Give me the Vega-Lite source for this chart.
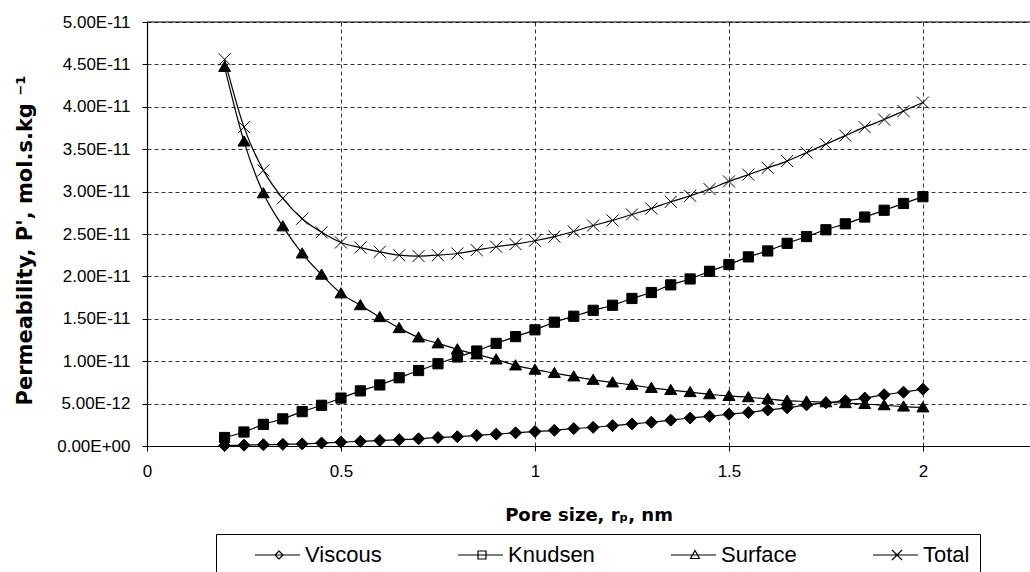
{
  "$schema": "https://vega.github.io/schema/vega-lite/v6.json",
  "width": 883,
  "height": 424,
  "autosize": {"type": "none"},
  "padding": {"left": 147, "top": 22, "right": 0, "bottom": 126},
  "background": "white",
  "config": {"view": {"stroke": null}, "font": "Liberation Sans"},
  "data": {"values": [
    {"r":0.2,"series":"Viscous","P":0.05e-12},{"r":0.25,"series":"Viscous","P":0.1e-12},{"r":0.3,"series":"Viscous","P":0.15e-12},{"r":0.35,"series":"Viscous","P":0.2e-12},{"r":0.4,"series":"Viscous","P":0.25e-12},{"r":0.45,"series":"Viscous","P":0.35e-12},{"r":0.5,"series":"Viscous","P":0.45e-12},{"r":0.55,"series":"Viscous","P":0.55e-12},{"r":0.6,"series":"Viscous","P":0.65e-12},{"r":0.65,"series":"Viscous","P":0.75e-12},{"r":0.7,"series":"Viscous","P":0.85e-12},{"r":0.75,"series":"Viscous","P":1.0e-12},{"r":0.8,"series":"Viscous","P":1.1e-12},{"r":0.85,"series":"Viscous","P":1.25e-12},{"r":0.9,"series":"Viscous","P":1.4e-12},{"r":0.95,"series":"Viscous","P":1.55e-12},{"r":1.0,"series":"Viscous","P":1.7e-12},{"r":1.05,"series":"Viscous","P":1.85e-12},{"r":1.1,"series":"Viscous","P":2.05e-12},{"r":1.15,"series":"Viscous","P":2.2e-12},{"r":1.2,"series":"Viscous","P":2.4e-12},{"r":1.25,"series":"Viscous","P":2.6e-12},{"r":1.3,"series":"Viscous","P":2.8e-12},{"r":1.35,"series":"Viscous","P":3.05e-12},{"r":1.4,"series":"Viscous","P":3.3e-12},{"r":1.45,"series":"Viscous","P":3.5e-12},{"r":1.5,"series":"Viscous","P":3.75e-12},{"r":1.55,"series":"Viscous","P":3.95e-12},{"r":1.6,"series":"Viscous","P":4.25e-12},{"r":1.65,"series":"Viscous","P":4.5e-12},{"r":1.7,"series":"Viscous","P":4.85e-12},{"r":1.75,"series":"Viscous","P":5.1e-12},{"r":1.8,"series":"Viscous","P":5.35e-12},{"r":1.85,"series":"Viscous","P":5.65e-12},{"r":1.9,"series":"Viscous","P":6.05e-12},{"r":1.95,"series":"Viscous","P":6.35e-12},{"r":2.0,"series":"Viscous","P":6.7e-12},
    {"r":0.2,"series":"Knudsen","P":1.0e-12},{"r":0.25,"series":"Knudsen","P":1.65e-12},{"r":0.3,"series":"Knudsen","P":2.55e-12},{"r":0.35,"series":"Knudsen","P":3.2e-12},{"r":0.4,"series":"Knudsen","P":4.05e-12},{"r":0.45,"series":"Knudsen","P":4.8e-12},{"r":0.5,"series":"Knudsen","P":5.65e-12},{"r":0.55,"series":"Knudsen","P":6.5e-12},{"r":0.6,"series":"Knudsen","P":7.2e-12},{"r":0.65,"series":"Knudsen","P":8.05e-12},{"r":0.7,"series":"Knudsen","P":8.9e-12},{"r":0.75,"series":"Knudsen","P":9.7e-12},{"r":0.8,"series":"Knudsen","P":10.5e-12},{"r":0.85,"series":"Knudsen","P":11.2e-12},{"r":0.9,"series":"Knudsen","P":12.1e-12},{"r":0.95,"series":"Knudsen","P":12.9e-12},{"r":1.0,"series":"Knudsen","P":13.7e-12},{"r":1.05,"series":"Knudsen","P":14.6e-12},{"r":1.1,"series":"Knudsen","P":15.3e-12},{"r":1.15,"series":"Knudsen","P":16.0e-12},{"r":1.2,"series":"Knudsen","P":16.6e-12},{"r":1.25,"series":"Knudsen","P":17.4e-12},{"r":1.3,"series":"Knudsen","P":18.1e-12},{"r":1.35,"series":"Knudsen","P":19.0e-12},{"r":1.4,"series":"Knudsen","P":19.7e-12},{"r":1.45,"series":"Knudsen","P":20.6e-12},{"r":1.5,"series":"Knudsen","P":21.4e-12},{"r":1.55,"series":"Knudsen","P":22.3e-12},{"r":1.6,"series":"Knudsen","P":23.0e-12},{"r":1.65,"series":"Knudsen","P":23.9e-12},{"r":1.7,"series":"Knudsen","P":24.7e-12},{"r":1.75,"series":"Knudsen","P":25.5e-12},{"r":1.8,"series":"Knudsen","P":26.2e-12},{"r":1.85,"series":"Knudsen","P":27.0e-12},{"r":1.9,"series":"Knudsen","P":27.8e-12},{"r":1.95,"series":"Knudsen","P":28.6e-12},{"r":2.0,"series":"Knudsen","P":29.4e-12},
    {"r":0.2,"series":"Surface","P":44.7e-12},{"r":0.25,"series":"Surface","P":35.9e-12},{"r":0.3,"series":"Surface","P":29.8e-12},{"r":0.35,"series":"Surface","P":25.9e-12},{"r":0.4,"series":"Surface","P":22.7e-12},{"r":0.45,"series":"Surface","P":20.2e-12},{"r":0.5,"series":"Surface","P":18.0e-12},{"r":0.55,"series":"Surface","P":16.6e-12},{"r":0.6,"series":"Surface","P":15.2e-12},{"r":0.65,"series":"Surface","P":13.9e-12},{"r":0.7,"series":"Surface","P":12.8e-12},{"r":0.75,"series":"Surface","P":12.1e-12},{"r":0.8,"series":"Surface","P":11.4e-12},{"r":0.85,"series":"Surface","P":10.8e-12},{"r":0.9,"series":"Surface","P":10.2e-12},{"r":0.95,"series":"Surface","P":9.5e-12},{"r":1.0,"series":"Surface","P":9.0e-12},{"r":1.05,"series":"Surface","P":8.6e-12},{"r":1.1,"series":"Surface","P":8.2e-12},{"r":1.15,"series":"Surface","P":7.8e-12},{"r":1.2,"series":"Surface","P":7.5e-12},{"r":1.25,"series":"Surface","P":7.2e-12},{"r":1.3,"series":"Surface","P":6.85e-12},{"r":1.35,"series":"Surface","P":6.6e-12},{"r":1.4,"series":"Surface","P":6.35e-12},{"r":1.45,"series":"Surface","P":6.1e-12},{"r":1.5,"series":"Surface","P":5.9e-12},{"r":1.55,"series":"Surface","P":5.75e-12},{"r":1.6,"series":"Surface","P":5.55e-12},{"r":1.65,"series":"Surface","P":5.35e-12},{"r":1.7,"series":"Surface","P":5.25e-12},{"r":1.75,"series":"Surface","P":5.15e-12},{"r":1.8,"series":"Surface","P":5.05e-12},{"r":1.85,"series":"Surface","P":4.95e-12},{"r":1.9,"series":"Surface","P":4.8e-12},{"r":1.95,"series":"Surface","P":4.65e-12},{"r":2.0,"series":"Surface","P":4.55e-12},
    {"r":0.2,"series":"Total","P":45.6e-12},{"r":0.25,"series":"Total","P":37.6e-12},{"r":0.3,"series":"Total","P":32.5e-12},{"r":0.35,"series":"Total","P":29.2e-12},{"r":0.4,"series":"Total","P":26.8e-12},{"r":0.45,"series":"Total","P":25.2e-12},{"r":0.5,"series":"Total","P":24.0e-12},{"r":0.55,"series":"Total","P":23.4e-12},{"r":0.6,"series":"Total","P":22.9e-12},{"r":0.65,"series":"Total","P":22.5e-12},{"r":0.7,"series":"Total","P":22.4e-12},{"r":0.75,"series":"Total","P":22.5e-12},{"r":0.8,"series":"Total","P":22.7e-12},{"r":0.85,"series":"Total","P":23.1e-12},{"r":0.9,"series":"Total","P":23.5e-12},{"r":0.95,"series":"Total","P":23.8e-12},{"r":1.0,"series":"Total","P":24.2e-12},{"r":1.05,"series":"Total","P":24.7e-12},{"r":1.1,"series":"Total","P":25.3e-12},{"r":1.15,"series":"Total","P":26.0e-12},{"r":1.2,"series":"Total","P":26.6e-12},{"r":1.25,"series":"Total","P":27.3e-12},{"r":1.3,"series":"Total","P":28.0e-12},{"r":1.35,"series":"Total","P":28.8e-12},{"r":1.4,"series":"Total","P":29.5e-12},{"r":1.45,"series":"Total","P":30.3e-12},{"r":1.5,"series":"Total","P":31.2e-12},{"r":1.55,"series":"Total","P":32.0e-12},{"r":1.6,"series":"Total","P":32.8e-12},{"r":1.65,"series":"Total","P":33.6e-12},{"r":1.7,"series":"Total","P":34.6e-12},{"r":1.75,"series":"Total","P":35.6e-12},{"r":1.8,"series":"Total","P":36.6e-12},{"r":1.85,"series":"Total","P":37.6e-12},{"r":1.9,"series":"Total","P":38.5e-12},{"r":1.95,"series":"Total","P":39.5e-12},{"r":2.0,"series":"Total","P":40.5e-12}
  ]},
  "resolve": {"scale": {"shape": "independent"}},
  "layer": [
    {
      "mark": {"type": "line", "color": "black", "strokeWidth": 1.2, "interpolate": "monotone"},
      "encoding": {
        "x": {"field": "r", "type": "quantitative",
          "scale": {"domain": [0, 2.276], "nice": false, "zero": false},
          "axis": {"title": "Pore size, rₚ, nm", "values": [0, 0.5, 1, 1.5, 2], "format": "~g",
            "grid": true, "gridDash": [4, 3], "gridColor": "black", "gridWidth": 0.8,
            "domainColor": "black", "domainWidth": 1.2, "tickColor": "black", "tickSize": 5,
            "labelFont": "Liberation Sans", "labelFontSize": 17, "labelColor": "black", "labelPadding": 12,
            "labelFlush": false,
            "titleFont": "DejaVu Sans", "titleFontSize": 18, "titleFontWeight": "bold", "titleColor": "black",
            "titleY": 69, "titleBaseline": "middle"}},
        "y": {"field": "P", "type": "quantitative",
          "scale": {"domain": [0, 5e-11], "nice": false},
          "axis": {"title": "Permeability, P', mol.s.kg ⁻¹",
            "values": [0, 5e-12, 1e-11, 1.5e-11, 2e-11, 2.5e-11, 3e-11, 3.5e-11, 4e-11, 4.5e-11, 5e-11],
            "labelExpr": "datum.value == 0 ? '0.00E+00' : upper(format(datum.value, '.2e'))",
            "grid": true, "gridDash": [4, 3], "gridColor": "black", "gridWidth": 0.8,
            "domainColor": "black", "domainWidth": 1.2, "tickColor": "black", "tickSize": 5,
            "labelFont": "Liberation Sans", "labelFontSize": 17, "labelColor": "black", "labelPadding": 12,
            "labelFlush": false,
            "titleFont": "DejaVu Sans", "titleFontSize": 21, "titleFontWeight": "bold", "titleColor": "black",
            "titleX": -122, "titleY": 218, "titleAngle": -90, "titleBaseline": "middle", "titleAlign": "center"}},
        "detail": {"field": "series", "type": "nominal"}
      }
    },
    {
      "mark": {"type": "point", "filled": true, "color": "black", "stroke": "black", "strokeWidth": 1, "size": 144, "opacity": 1},
      "encoding": {
        "x": {"field": "r", "type": "quantitative"},
        "y": {"field": "P", "type": "quantitative"},
        "shape": {"field": "series", "type": "nominal",
          "scale": {"domain": ["Viscous", "Knudsen", "Surface", "Total"],
            "range": ["M0,-1L1,0L0,1L-1,0Z", "M-0.85,-0.85L0.85,-0.85L0.85,0.85L-0.85,0.85Z", "M0,-0.95L1,0.75L-1,0.75Z", "M-1,-1L1,1M1,-1L-1,1"]},
          "legend": null}
      }
    },
    {
      "mark": {"type": "point", "filled": false, "color": "black", "strokeWidth": 1.2, "size": 100, "opacity": 0},
      "encoding": {
        "x": {"field": "r", "type": "quantitative"},
        "y": {"field": "P", "type": "quantitative"},
        "shape": {"field": "series", "type": "nominal",
          "scale": {"domain": ["Viscous", "Knudsen", "Surface", "Total"],
            "range": ["M-1,0M3.6,0L12.6,0M8.4,-0.8L9.2,0L8.4,0.8L7.6,0Z", "M-1,0M3.6,0L12.6,0M7.6,-0.8L9.2,-0.8L9.2,0.8L7.6,0.8Z", "M-1,0M3.6,0L12.6,0M8.4,-0.9L9.3,0.7L7.5,0.7Z", "M-1,0M3.6,0L12.6,0M7.4,-1L9.4,1M9.4,-1L7.4,1"]},
          "legend": {"orient": "none", "legendX": 69, "legendY": 512, "direction": "horizontal", "columns": 4,
            "title": null, "strokeColor": "black", "padding": 10,
            "symbolSize": 100, "symbolStrokeWidth": 1.2, "symbolOpacity": 1,
            "symbolFillColor": "black", "symbolStrokeColor": "black",
            "labelFont": "Liberation Sans", "labelFontSize": 22, "labelColor": "black",
            "labelOffset": 57, "columnPadding": 47,
            "encode": {"symbols": {
              "fill": {"value": "black"},
              "opacity": {"value": 1}
            }}}
        }
      }
    },
    {
      "data": {"values": [{"P": 5e-11}]},
      "mark": {"type": "rule", "color": "black", "strokeWidth": 1.2},
      "encoding": {"y": {"field": "P", "type": "quantitative"}}
    }
  ]
}
